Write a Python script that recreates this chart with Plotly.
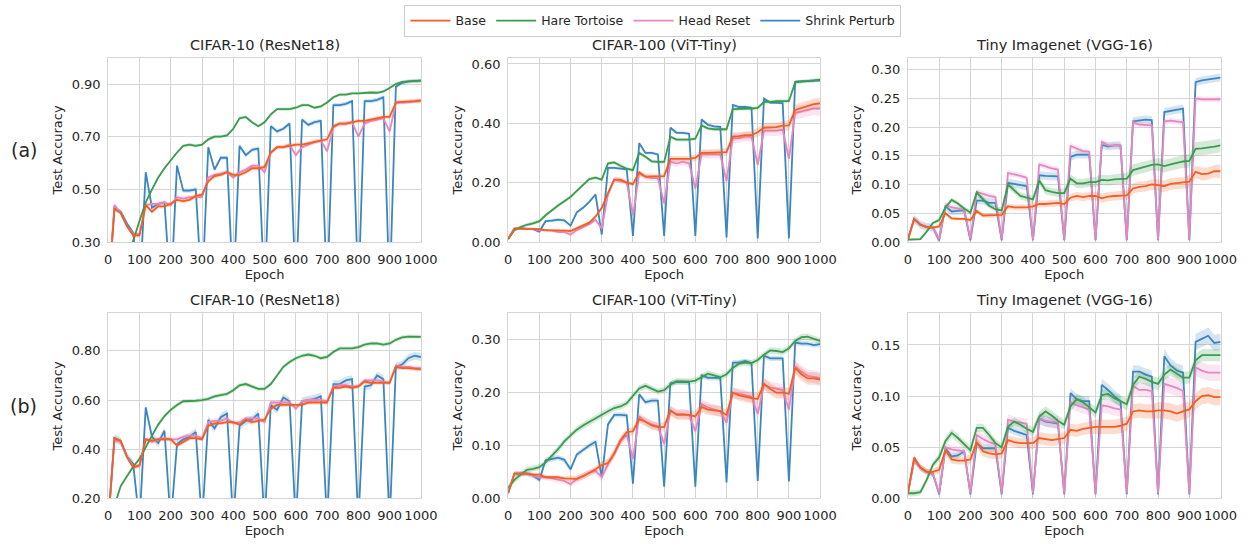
import numpy as np
import plotly.graph_objects as go
from plotly.subplots import make_subplots

EPOCHS = list(range(0, 1001, 20))
METHODS = ['Base', 'Hare Tortoise', 'Head Reset', 'Shrink Perturb']
COLORS = {'Base': '#f15f22', 'Hare Tortoise': '#3a9c4c', 'Head Reset': '#e687c2', 'Shrink Perturb': '#3a86c0'}
TITLES = ['CIFAR-10 (ResNet18)', 'CIFAR-100 (ViT-Tiny)', 'Tiny Imagenet (VGG-16)']
ROW_LABELS = ['(a)', '(b)']

# ---- row (a) ----
C10A_BASE = [0.10, 0.425, 0.41, 0.36, 0.325, 0.325, 0.44, 0.415, 0.435, 0.435, 0.445,
             0.46, 0.455, 0.46, 0.475, 0.48, 0.53, 0.55, 0.555, 0.565, 0.555,
             0.555, 0.565, 0.58, 0.58, 0.585, 0.64, 0.66, 0.66, 0.665, 0.67,
             0.67, 0.675, 0.68, 0.685, 0.69, 0.74, 0.75, 0.75, 0.755, 0.76,
             0.76, 0.765, 0.77, 0.775, 0.775, 0.83, 0.832, 0.833, 0.835, 0.838]
C10A_HARE = [0.10, 0.15, 0.20, 0.25, 0.305, 0.38, 0.45, 0.50, 0.545, 0.58, 0.61,
             0.64, 0.665, 0.67, 0.665, 0.67, 0.69, 0.70, 0.70, 0.705, 0.73,
             0.77, 0.775, 0.755, 0.74, 0.755, 0.785, 0.805, 0.805, 0.805, 0.81,
             0.82, 0.82, 0.81, 0.815, 0.83, 0.85, 0.86, 0.86, 0.865, 0.865,
             0.867, 0.868, 0.867, 0.872, 0.885, 0.90, 0.908, 0.91, 0.912, 0.913]
C10A_HEAD = [0.10, 0.44, 0.41, 0.36, 0.33, 0.33, 0.44, 0.445, 0.445, 0.45, 0.44,
             0.47, 0.465, 0.47, 0.47, 0.47, 0.545, 0.555, 0.56, 0.565, 0.545,
             0.565, 0.575, 0.59, 0.59, 0.565, 0.64, 0.66, 0.66, 0.67, 0.63,
             0.66, 0.67, 0.68, 0.685, 0.645, 0.735, 0.75, 0.75, 0.755, 0.70,
             0.75, 0.76, 0.765, 0.77, 0.72, 0.83, 0.83, 0.832, 0.835, 0.835]
C10A_SHRINK = [0.10, 0.43, 0.415, 0.37, 0.335, 0.10, 0.565, 0.43, 0.445, 0.45, 0.10,
               0.59, 0.495, 0.495, 0.50, 0.10, 0.66, 0.575, 0.62, 0.62, 0.10,
               0.665, 0.63, 0.65, 0.655, 0.10, 0.74, 0.72, 0.73, 0.75, 0.10,
               0.765, 0.745, 0.755, 0.76, 0.10, 0.82, 0.82, 0.825, 0.835, 0.10,
               0.835, 0.835, 0.84, 0.85, 0.10, 0.89, 0.905, 0.91, 0.912, 0.913]

C100A_BASE = [0.01, 0.045, 0.045, 0.045, 0.043, 0.043, 0.04, 0.04, 0.04, 0.038, 0.037,
              0.047, 0.055, 0.065, 0.085, 0.115, 0.165, 0.21, 0.21, 0.20, 0.195,
              0.235, 0.22, 0.22, 0.22, 0.222, 0.28, 0.28, 0.28, 0.28, 0.283,
              0.30, 0.30, 0.302, 0.302, 0.303, 0.355, 0.357, 0.36, 0.36, 0.37,
              0.385, 0.385, 0.387, 0.392, 0.393, 0.445, 0.452, 0.457, 0.465, 0.467]
C100A_HARE = [0.01, 0.04, 0.05, 0.058, 0.063, 0.07, 0.09, 0.108, 0.123, 0.137, 0.152,
              0.172, 0.193, 0.212, 0.217, 0.21, 0.265, 0.268, 0.257, 0.247, 0.242,
              0.30, 0.287, 0.272, 0.27, 0.27, 0.355, 0.345, 0.345, 0.345, 0.348,
              0.393, 0.383, 0.38, 0.38, 0.38, 0.448, 0.448, 0.45, 0.45, 0.452,
              0.472, 0.472, 0.475, 0.475, 0.475, 0.538, 0.54, 0.542, 0.545, 0.547]
C100A_HEAD = [0.01, 0.045, 0.045, 0.045, 0.043, 0.04, 0.04, 0.038, 0.033, 0.033, 0.025,
              0.04, 0.05, 0.06, 0.075, 0.045, 0.16, 0.21, 0.205, 0.20, 0.09,
              0.23, 0.22, 0.215, 0.215, 0.13, 0.27, 0.265, 0.27, 0.265, 0.18,
              0.295, 0.295, 0.295, 0.295, 0.205, 0.35, 0.35, 0.355, 0.355, 0.26,
              0.375, 0.375, 0.375, 0.378, 0.28, 0.435, 0.44, 0.445, 0.45, 0.45]
C100A_SHRINK = [0.01, 0.045, 0.045, 0.045, 0.043, 0.035, 0.07, 0.072, 0.075, 0.073, 0.055,
                0.10, 0.115, 0.135, 0.16, 0.025, 0.25, 0.25, 0.248, 0.245, 0.02,
                0.333, 0.30, 0.30, 0.295, 0.02, 0.385, 0.368, 0.368, 0.365, 0.02,
                0.413, 0.395, 0.39, 0.388, 0.015, 0.462, 0.455, 0.455, 0.452, 0.012,
                0.483, 0.47, 0.47, 0.468, 0.012, 0.54, 0.542, 0.542, 0.543, 0.545]

TINYA_BASE = [0.005, 0.04, 0.03, 0.026, 0.025, 0.027, 0.05, 0.041, 0.04, 0.04, 0.038,
              0.054, 0.046, 0.046, 0.046, 0.047, 0.062, 0.06, 0.06, 0.06, 0.062,
              0.066, 0.066, 0.067, 0.068, 0.066, 0.077, 0.08, 0.078, 0.08, 0.08,
              0.076, 0.079, 0.08, 0.081, 0.081, 0.093, 0.096, 0.097, 0.10, 0.099,
              0.097, 0.101, 0.102, 0.103, 0.105, 0.122, 0.118, 0.119, 0.123, 0.123]
TINYA_HARE = [0.004, 0.004, 0.005, 0.018, 0.033, 0.038, 0.06, 0.073, 0.067, 0.058, 0.051,
              0.086, 0.074, 0.063, 0.057, 0.055, 0.10, 0.09, 0.08, 0.077, 0.074,
              0.107, 0.09, 0.087, 0.085, 0.085, 0.11, 0.102, 0.102, 0.104, 0.104,
              0.108, 0.107, 0.109, 0.11, 0.11, 0.125, 0.128, 0.131, 0.134, 0.135,
              0.132, 0.135, 0.138, 0.14, 0.141, 0.162, 0.163, 0.164, 0.166, 0.168]
TINYA_HEAD = [0.004, 0.039, 0.03, 0.026, 0.025, 0.005, 0.063, 0.06, 0.058, 0.056, 0.005,
              0.087, 0.083, 0.08, 0.078, 0.005, 0.12, 0.118, 0.115, 0.112, 0.004,
              0.135, 0.131, 0.128, 0.126, 0.004, 0.167, 0.162, 0.158, 0.157, 0.004,
              0.174, 0.168, 0.168, 0.167, 0.004, 0.209, 0.204, 0.203, 0.203, 0.004,
              0.21, 0.211, 0.21, 0.208, 0.004, 0.25, 0.248, 0.248, 0.248, 0.248]
TINYA_SHRINK = [0.004, 0.04, 0.03, 0.026, 0.025, 0.003, 0.062, 0.053, 0.054, 0.055, 0.003,
                0.072, 0.072, 0.068, 0.068, 0.003, 0.103, 0.101, 0.099, 0.097, 0.003,
                0.116, 0.115, 0.114, 0.114, 0.003, 0.148, 0.152, 0.152, 0.152, 0.003,
                0.169, 0.166, 0.168, 0.168, 0.003, 0.21, 0.211, 0.213, 0.212, 0.003,
                0.226, 0.228, 0.23, 0.232, 0.003, 0.278, 0.281, 0.283, 0.285, 0.286]

# ---- row (b) ----
C10B_BASE = [0.10, 0.445, 0.435, 0.37, 0.325, 0.335, 0.44, 0.435, 0.44, 0.44, 0.44,
             0.415, 0.43, 0.445, 0.445, 0.44, 0.495, 0.505, 0.505, 0.51, 0.51,
             0.50, 0.52, 0.51, 0.515, 0.52, 0.565, 0.58, 0.58, 0.58, 0.58,
             0.58, 0.59, 0.59, 0.59, 0.59, 0.65, 0.65, 0.655, 0.65, 0.655,
             0.675, 0.67, 0.67, 0.67, 0.67, 0.735, 0.73, 0.73, 0.728, 0.725]
C10B_HARE = [0.10, 0.17, 0.25, 0.29, 0.33, 0.36, 0.41, 0.455, 0.50, 0.535, 0.56,
             0.58, 0.595, 0.595, 0.597, 0.60, 0.605, 0.615, 0.62, 0.625, 0.64,
             0.66, 0.665, 0.655, 0.645, 0.645, 0.665, 0.70, 0.735, 0.755, 0.77,
             0.78, 0.785, 0.78, 0.77, 0.775, 0.795, 0.81, 0.81, 0.81, 0.815,
             0.825, 0.83, 0.83, 0.825, 0.83, 0.845, 0.855, 0.858, 0.858, 0.857]
C10B_HEAD = [0.10, 0.435, 0.43, 0.37, 0.33, 0.33, 0.44, 0.43, 0.44, 0.445, 0.44,
             0.44, 0.45, 0.455, 0.455, 0.445, 0.51, 0.515, 0.515, 0.525, 0.505,
             0.51, 0.525, 0.525, 0.525, 0.51, 0.59, 0.59, 0.59, 0.59, 0.565,
             0.595, 0.60, 0.60, 0.60, 0.595, 0.655, 0.66, 0.66, 0.655, 0.655,
             0.68, 0.68, 0.68, 0.675, 0.67, 0.74, 0.735, 0.735, 0.73, 0.73]
C10B_SHRINK = [0.10, 0.445, 0.43, 0.37, 0.34, 0.10, 0.57, 0.45, 0.425, 0.475, 0.10,
               0.42, 0.44, 0.45, 0.47, 0.10, 0.52, 0.485, 0.53, 0.545, 0.10,
               0.495, 0.515, 0.52, 0.545, 0.10, 0.58, 0.56, 0.61, 0.595, 0.10,
               0.595, 0.60, 0.605, 0.615, 0.10, 0.665, 0.665, 0.68, 0.685, 0.10,
               0.655, 0.66, 0.70, 0.685, 0.10, 0.735, 0.745, 0.77, 0.78, 0.775]

C100B_BASE = [0.01, 0.047, 0.047, 0.047, 0.045, 0.045, 0.04, 0.04, 0.04, 0.038, 0.038,
              0.037, 0.042, 0.048, 0.055, 0.063, 0.067, 0.085, 0.11, 0.125, 0.127,
              0.15, 0.145, 0.138, 0.135, 0.135, 0.167, 0.158, 0.158, 0.158, 0.155,
              0.173, 0.168, 0.167, 0.165, 0.158, 0.20, 0.195, 0.192, 0.19, 0.188,
              0.217, 0.207, 0.20, 0.20, 0.198, 0.247, 0.235, 0.227, 0.227, 0.225]
C100B_HARE = [0.02, 0.035, 0.045, 0.054, 0.056, 0.059, 0.068, 0.08, 0.093, 0.108, 0.12,
              0.13, 0.138, 0.145, 0.152, 0.158, 0.165, 0.171, 0.174, 0.18, 0.195,
              0.208, 0.213, 0.208, 0.202, 0.205, 0.215, 0.222, 0.222, 0.221, 0.223,
              0.23, 0.236, 0.233, 0.229, 0.235, 0.247, 0.255, 0.257, 0.256, 0.262,
              0.272, 0.28, 0.279, 0.277, 0.284, 0.298, 0.305, 0.306, 0.302, 0.298]
C100B_HEAD = [0.01, 0.047, 0.047, 0.047, 0.043, 0.04, 0.04, 0.038, 0.035, 0.033, 0.027,
              0.037, 0.042, 0.048, 0.052, 0.04, 0.065, 0.085, 0.108, 0.12, 0.075,
              0.155, 0.145, 0.14, 0.137, 0.103, 0.165, 0.16, 0.16, 0.158, 0.127,
              0.178, 0.172, 0.168, 0.165, 0.143, 0.20, 0.198, 0.195, 0.193, 0.16,
              0.215, 0.21, 0.207, 0.205, 0.168, 0.25, 0.24, 0.232, 0.23, 0.228]
C100B_SHRINK = [0.01, 0.047, 0.047, 0.047, 0.043, 0.035, 0.072, 0.075, 0.077, 0.073, 0.055,
                0.083, 0.092, 0.10, 0.107, 0.04, 0.14, 0.158, 0.158, 0.157, 0.028,
                0.197, 0.182, 0.185, 0.185, 0.022, 0.218, 0.22, 0.22, 0.22, 0.022,
                0.233, 0.228, 0.228, 0.228, 0.03, 0.257, 0.257, 0.26, 0.256, 0.033,
                0.27, 0.265, 0.265, 0.265, 0.032, 0.295, 0.293, 0.293, 0.29, 0.292]

TINYB_BASE = [0.005, 0.04, 0.03, 0.026, 0.026, 0.028, 0.047, 0.038, 0.037, 0.037, 0.038,
              0.055, 0.046, 0.044, 0.043, 0.044, 0.057, 0.055, 0.054, 0.054, 0.054,
              0.059, 0.058, 0.057, 0.058, 0.059, 0.067, 0.066, 0.068, 0.069, 0.07,
              0.07, 0.07, 0.07, 0.071, 0.073, 0.085, 0.086, 0.085, 0.085, 0.086,
              0.086, 0.085, 0.083, 0.085, 0.087, 0.095, 0.10, 0.101, 0.099, 0.099]
TINYB_HARE = [0.005, 0.005, 0.006, 0.018, 0.033, 0.04, 0.056, 0.064, 0.059, 0.053, 0.047,
              0.069, 0.069, 0.062, 0.054, 0.05, 0.07, 0.075, 0.072, 0.068, 0.065,
              0.08, 0.085, 0.081, 0.076, 0.072, 0.09, 0.097, 0.094, 0.089, 0.084,
              0.101, 0.102, 0.098, 0.095, 0.092, 0.111, 0.119, 0.117, 0.114, 0.112,
              0.121, 0.126, 0.122, 0.118, 0.118, 0.135, 0.14, 0.14, 0.14, 0.14]
TINYB_HEAD = [0.005, 0.036, 0.03, 0.026, 0.024, 0.005, 0.05, 0.048, 0.047, 0.046, 0.005,
              0.062, 0.058, 0.055, 0.053, 0.005, 0.077, 0.075, 0.074, 0.073, 0.005,
              0.078, 0.076, 0.075, 0.074, 0.005, 0.094, 0.091, 0.089, 0.087, 0.005,
              0.091, 0.09, 0.088, 0.087, 0.005, 0.11, 0.106, 0.106, 0.105, 0.005,
              0.112, 0.11, 0.108, 0.105, 0.005, 0.128, 0.125, 0.123, 0.123, 0.123]
TINYB_SHRINK = [0.005, 0.038, 0.03, 0.026, 0.024, 0.004, 0.049, 0.041, 0.042, 0.046, 0.004,
                0.054, 0.049, 0.049, 0.049, 0.004, 0.069, 0.066, 0.064, 0.062, 0.004,
                0.078, 0.075, 0.074, 0.073, 0.004, 0.103, 0.097, 0.095, 0.095, 0.004,
                0.111, 0.106, 0.10, 0.095, 0.004, 0.124, 0.124, 0.121, 0.119, 0.004,
                0.139, 0.13, 0.125, 0.123, 0.004, 0.153, 0.156, 0.159, 0.152, 0.153]

# half-width of the shaded band, one value per 100-epoch block (or a single value)
C10A_SPREAD = [0.008, 0.006, 0.008, 0.008]
C100A_SPREAD = [[0.003, 0.004, 0.006, 0.008, 0.008, 0.01, 0.012, 0.014, 0.016, 0.018, 0.02],
                0.006,
                [0.003, 0.004, 0.006, 0.008, 0.01, 0.012, 0.014, 0.016, 0.018, 0.022, 0.025],
                0.005]
TINYA_SPREAD = [[0.002, 0.003, 0.004, 0.005, 0.006, 0.007, 0.008, 0.009, 0.01, 0.011, 0.012],
                [0.002, 0.004, 0.005, 0.006, 0.007, 0.008, 0.009, 0.01, 0.011, 0.012, 0.012],
                0.005, 0.007]
C10B_SPREAD = [0.008, 0.008, 0.01, 0.016]
C100B_SPREAD = [[0.003, 0.004, 0.006, 0.008, 0.008, 0.009, 0.01, 0.01, 0.011, 0.012, 0.012],
                0.006,
                [0.004, 0.005, 0.006, 0.008, 0.008, 0.009, 0.01, 0.01, 0.011, 0.012, 0.012],
                0.005]
TINYB_SPREAD = [[0.003, 0.004, 0.005, 0.005, 0.006, 0.006, 0.007, 0.007, 0.008, 0.008, 0.008],
                [0.003, 0.004, 0.004, 0.004, 0.005, 0.005, 0.005, 0.006, 0.006, 0.006, 0.006],
                [0.003, 0.004, 0.005, 0.005, 0.006, 0.006, 0.007, 0.007, 0.008, 0.008, 0.008],
                [0.003, 0.003, 0.004, 0.004, 0.005, 0.005, 0.006, 0.006, 0.007, 0.008, 0.008]]

PANELS = [
    [(C10A_BASE, C10A_HARE, C10A_HEAD, C10A_SHRINK, C10A_SPREAD),
     (C100A_BASE, C100A_HARE, C100A_HEAD, C100A_SHRINK, C100A_SPREAD),
     (TINYA_BASE, TINYA_HARE, TINYA_HEAD, TINYA_SHRINK, TINYA_SPREAD)],
    [(C10B_BASE, C10B_HARE, C10B_HEAD, C10B_SHRINK, C10B_SPREAD),
     (C100B_BASE, C100B_HARE, C100B_HEAD, C100B_SHRINK, C100B_SPREAD),
     (TINYB_BASE, TINYB_HARE, TINYB_HEAD, TINYB_SHRINK, TINYB_SPREAD)],
]

Y_RANGES = [[[0.3, 1.0], [0, 0.621], [0, 0.3205]],
            [[0.2, 0.952], [0, 0.35], [0, 0.1808]]]
Y_TICKS = [[[0.3, 0.5, 0.7, 0.9], [0, 0.2, 0.4, 0.6], [0, 0.05, 0.1, 0.15, 0.2, 0.25, 0.3]],
           [[0.2, 0.4, 0.6, 0.8], [0, 0.1, 0.2, 0.3], [0, 0.05, 0.1, 0.15]]]

X_DOMAINS = [[0.0843, 0.3373], [0.4079, 0.6603], [0.7313, 0.9843]]
Y_DOMAINS = [[0.5513, 0.8943], [0.0738, 0.4181]]

GRID = '#d5d5d5'
TEXT = '#262626'
FONT = 'DejaVu Sans'


def expand_spread(s):
    s = np.atleast_1d(np.asarray(s, dtype=float))
    if s.size == 1:
        return np.full(len(EPOCHS), s[0])
    return np.repeat(s, 5)[:len(EPOCHS)]


def hex_rgba(h, a):
    h = h.lstrip('#')
    r, g, b = int(h[0:2], 16), int(h[2:4], 16), int(h[4:6], 16)
    return f'rgba({r},{g},{b},{a})'


fig = make_subplots(rows=2, cols=3)

# draw order: blue first, orange last (on top)
draw_order = [3, 2, 1, 0]
for r in range(2):
    for c in range(3):
        base, hare, head, shrink, spreads = PANELS[r][c]
        series = [base, hare, head, shrink]
        for i in draw_order:
            name = METHODS[i]
            y = np.asarray(series[i])
            s = expand_spread(spreads[i])
            x_area = EPOCHS + EPOCHS[::-1]
            y_area = list(y + s) + list((y - s)[::-1])
            fig.add_trace(go.Scatter(x=x_area, y=y_area, fill='toself',
                                     fillcolor=hex_rgba(COLORS[name], 0.22),
                                     line=dict(width=0), hoverinfo='skip', showlegend=False),
                          row=r + 1, col=c + 1)
            fig.add_trace(go.Scatter(x=EPOCHS, y=y, mode='lines', name=name,
                                     line=dict(color=COLORS[name], width=1.8),
                                     legendrank=i + 1, showlegend=(r == 0 and c == 0)),
                          row=r + 1, col=c + 1)
        fig.update_xaxes(domain=X_DOMAINS[c], range=[0, 1000], tickvals=list(range(0, 1001, 100)),
                         title=dict(text='Epoch', standoff=3, font=dict(size=13, color=TEXT)),
                         row=r + 1, col=c + 1)
        fig.update_yaxes(domain=Y_DOMAINS[r], range=Y_RANGES[r][c], tickvals=Y_TICKS[r][c],
                         tickformat='.2f',
                         title=dict(text='Test Accuracy', standoff=6, font=dict(size=13, color=TEXT)),
                         row=r + 1, col=c + 1)
        fig.add_annotation(text=TITLES[c], x=sum(X_DOMAINS[c]) / 2, y=Y_DOMAINS[r][1] + 0.006,
                           xref='paper', yref='paper', xanchor='center', yanchor='bottom',
                           showarrow=False, font=dict(size=14.5, color=TEXT, family=FONT))

for r, label in enumerate(ROW_LABELS):
    fig.add_annotation(text=label, x=20 / 1257, y=sum(Y_DOMAINS[r]) / 2, xref='paper', yref='paper',
                       xanchor='center', yanchor='middle', showarrow=False,
                       font=dict(size=19, color=TEXT, family=FONT))

fig.update_xaxes(showgrid=True, gridcolor=GRID, gridwidth=1, showline=True, mirror=True,
                 linecolor=GRID, linewidth=1, ticks='', zeroline=False, ticklabelstandoff=5,
                 tickfont=dict(size=13, color=TEXT))
fig.update_yaxes(showgrid=True, gridcolor=GRID, gridwidth=1, showline=True, mirror=True,
                 linecolor=GRID, linewidth=1, ticks='', zeroline=False, ticklabelstandoff=4,
                 tickfont=dict(size=13, color=TEXT))

fig.update_layout(
    width=1257, height=546,
    margin=dict(l=0, r=0, t=0, b=0),
    paper_bgcolor='white', plot_bgcolor='white',
    font=dict(family=FONT, color=TEXT),
    legend=dict(orientation='h', x=0.525, xanchor='center', y=1 - 4 / 546, yanchor='top',
                bordercolor='#cccccc', borderwidth=1, bgcolor='white',
                font=dict(size=12.5, color=TEXT), itemwidth=40),
)

fig.write_html('out.html', config={'displayModeBar': False},
               post_script="document.body.style.margin = '0px';")
